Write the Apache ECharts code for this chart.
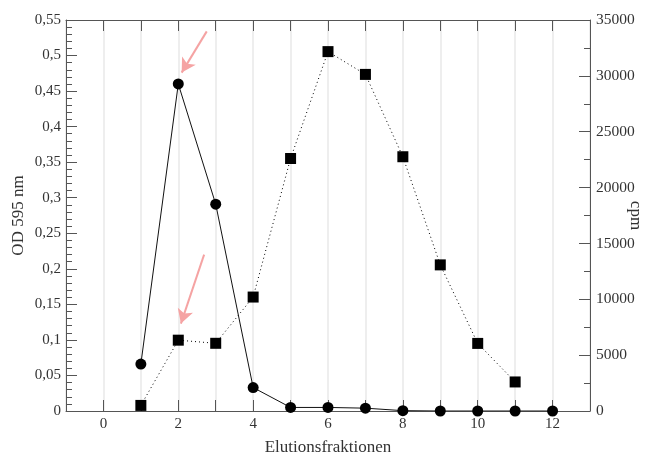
<!DOCTYPE html>
<html>
<head>
<meta charset="utf-8">
<script src="https://cdn.jsdelivr.net/npm/echarts@6/dist/echarts.min.js"></script>
<style>html,body{margin:0;padding:0;background:#fff;}#c{width:648px;height:455px;}</style>
</head>
<body>
<div id="c"></div>
<script>
var fractions = [1, 2, 3, 4, 5, 6, 7, 8, 9, 10, 11, 12];
var od595 = [0.066, 0.46, 0.291, 0.033, 0.005, 0.005, 0.004, 0.0005, 0, 0, 0, 0];
var cpmFractions = [1, 2, 3, 4, 5, 6, 7, 8, 9, 10, 11];
var cpm = [500, 6340, 6060, 10200, 22600, 32170, 30130, 22760, 13080, 6050, 2600];
// arrows (data coordinates on the OD axis): [fromX, fromY, toX, toY]
var arrows = [[2.76, 0.534, 2.09, 0.476], [2.69, 0.22, 2.07, 0.123]];

var FONT = 'Liberation Serif';
var axisCol = '#555';
var chart = echarts.init(document.getElementById('c'), null, {renderer: 'canvas'});
chart.setOption({
  animation: false,
  backgroundColor: '#fff',
  grid: {left: 66, right: 58, top: 20, bottom: 44, containLabel: false, outerBoundsMode: 'none'},
  xAxis: [{
    type: 'value', min: -1, max: 13, interval: 1, position: 'bottom',
    name: 'Elutionsfraktionen', nameLocation: 'middle', nameGap: 28,
    nameTextStyle: {fontFamily: FONT, fontSize: 17, color: '#333'},
    axisLine: {onZero: false, lineStyle: {color: axisCol, width: 1}},
    axisTick: {inside: true, length: 11, lineStyle: {color: axisCol}},
    axisLabel: {fontFamily: FONT, fontSize: 15, color: '#333', margin: 6,
      formatter: function (v) { return (v >= 0 && v <= 12 && v % 2 === 0) ? String(v) : ''; }},
    splitLine: {show: true, lineStyle: {color: '#e8e8e8', width: 1.5}}
  }, {
    type: 'value', min: -1, max: 13, interval: 1, position: 'top',
    axisLine: {onZero: false, lineStyle: {color: axisCol, width: 1}},
    axisTick: {inside: true, length: 11, lineStyle: {color: axisCol}},
    axisLabel: {show: false}, splitLine: {show: false}
  }],
  yAxis: [{
    type: 'value', min: 0, max: 0.55, interval: 0.05, position: 'left',
    name: 'OD 595 nm', nameLocation: 'middle', nameGap: 39, nameRotate: 90,
    nameMoveOverlap: false,
    nameTextStyle: {fontFamily: FONT, fontSize: 17, color: '#333'},
    axisLine: {show: true, onZero: false, lineStyle: {color: axisCol, width: 1}},
    axisTick: {show: true, inside: true, length: 11, lineStyle: {color: axisCol}},
    minorTick: {show: true, splitNumber: 5, length: 6, lineStyle: {color: axisCol}},
    axisLabel: {fontFamily: FONT, fontSize: 15, color: '#333', margin: 5,
      formatter: function (v) { return String(Math.round(v * 100) / 100).replace('.', ','); }},
    splitLine: {show: false}
  }, {
    type: 'value', min: 0, max: 35000, interval: 5000, position: 'right',
    name: 'cpm', nameLocation: 'middle', nameGap: 37, nameRotate: -90,
    nameMoveOverlap: false,
    nameTextStyle: {fontFamily: FONT, fontSize: 17, color: '#333'},
    axisLine: {show: true, onZero: false, lineStyle: {color: axisCol, width: 1}},
    axisTick: {show: true, inside: true, length: 11, lineStyle: {color: axisCol}},
    minorTick: {show: true, splitNumber: 2, length: 6, lineStyle: {color: axisCol}},
    axisLabel: {fontFamily: FONT, fontSize: 15.5, color: '#333', margin: 6,
      formatter: function (v) { return String(v); }},
    splitLine: {show: false}
  }],
  series: [{
    type: 'line', name: 'cpm', xAxisIndex: 0, yAxisIndex: 1,
    data: cpmFractions.map(function (f, i) { return [f, cpm[i]]; }),
    symbol: 'rect', symbolSize: 11,
    itemStyle: {color: '#000'},
    lineStyle: {color: '#000', width: 1, type: [1, 3]},
    z: 3
  }, {
    type: 'line', name: 'OD', xAxisIndex: 0, yAxisIndex: 0,
    data: fractions.map(function (f, i) { return [f, od595[i]]; }),
    symbol: 'circle', symbolSize: 11,
    itemStyle: {color: '#000'},
    lineStyle: {color: '#111', width: 1},
    z: 4,
    markLine: {
      silent: true, symbol: ['none', 'arrow'], symbolSize: [12, 14],
      label: {show: false},
      lineStyle: {color: '#f5a3a3', width: 2, type: 'solid'},
      emphasis: {disabled: true},
      data: arrows.map(function (a) { return [{coord: [a[0], a[1]]}, {coord: [a[2], a[3]]}]; })
    }
  }]
});
</script>
</body>
</html>
